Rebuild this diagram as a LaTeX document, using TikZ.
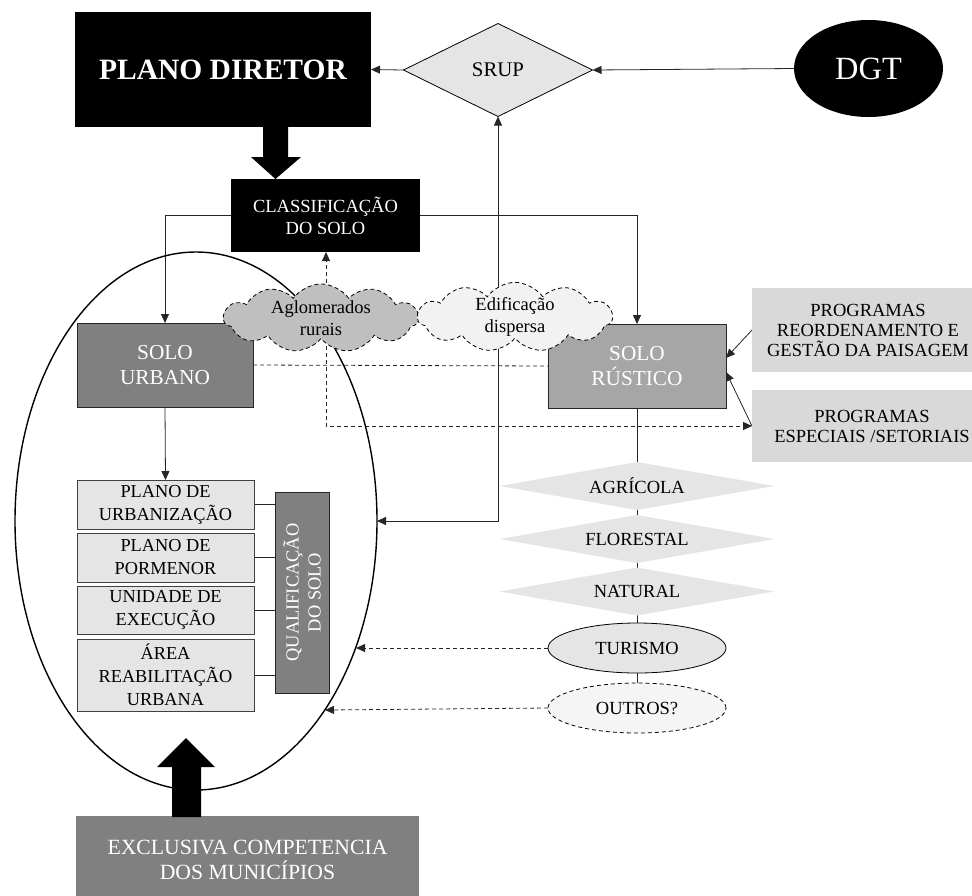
\documentclass[tikz,border=0pt]{standalone}
\usepackage{fontspec}
\setmainfont{Liberation Serif}
\usetikzlibrary{shapes.geometric,shapes.symbols,arrows.meta}
\pgfdeclarelayer{back}
\pgfsetlayers{back,main}

\begin{document}
\begin{tikzpicture}[x=1pt, y=-1pt,
		>={Triangle[length=9pt,width=8pt]},
		every node/.style={inner sep=0pt, outer sep=0pt, align=center, font=\fontsize{18.5}{22}\selectfont},
		blackbox/.style={fill=black, text=white},
		soilbox/.style={draw=black!85, line width=.8pt, text=white, font=\fontsize{21.3}{24.5}\selectfont},
		planbox/.style={draw=black!75, line width=.8pt, fill=black!10, minimum width=177, font=\fontsize{18.3}{23}\selectfont},
		progbox/.style={fill=black!15, font=\fontsize{18.5}{20}\selectfont},
		landuse/.style={diamond, shape aspect=5.7, fill=black!10, minimum width=275, minimum height=48},
		dashline/.style={dash pattern=on 4pt off 3pt},
		cloudbox/.style={cloud, cloud puffs=11, cloud puff arc=110, cloud ignores aspect, draw, line width=.8pt, dashline, minimum width=195, minimum height=67},
		link/.style={line width=.8pt, black!85}]
	\useasboundingbox (0,0) rectangle (972,895);
	\draw[line width=1.4pt] (196,521) ellipse [x radius=181, y radius=269];
	\node[blackbox, minimum width=296, minimum height=115, font=\fontsize{29.5}{34}\selectfont\bfseries] (plano) at (223,69.5) {PLANO DIRETOR};
	\node[diamond, shape aspect=2, draw, line width=.8pt, fill=black!10, minimum width=189, minimum height=93, font=\fontsize{20.8}{24}\selectfont] (srup) at (498,70) {SRUP};
	\node[ellipse, blackbox, minimum width=149, minimum height=97, font=\fontsize{32.4}{36}\selectfont] (dgt) at (868.5,68.5) {DGT};
	\node[blackbox, minimum width=189, minimum height=73] (classif) at (325.5,215.5) {CLASSIFICAÇÃO\\DO SOLO};
	\node[soilbox, fill=black!50, minimum width=176, minimum height=84] (urbano) at (165,365) {SOLO\\URBANO};
	\node[soilbox, fill=black!35, minimum width=178, minimum height=84] (rustico) at (637,366) {SOLO\\RÚSTICO};
	\node[progbox, minimum width=232, minimum height=84] (reord) at (868,330) {PROGRAMAS\\REORDENAMENTO E\\GESTÃO DA PAISAGEM};
	\node[progbox, minimum width=240, minimum height=72] (especiais) at (872,426) {PROGRAMAS\\ESPECIAIS /SETORIAIS};
	\node[planbox, minimum height=49] (purb) at (165.5,504.5) {PLANO DE\\URBANIZAÇÃO};
	\node[planbox, minimum height=49] (ppor) at (165.5,557.5) {PLANO DE\\PORMENOR};
	\node[planbox, minimum height=48] (uexe) at (165.5,610) {UNIDADE DE\\EXECUÇÃO};
	\node[planbox, minimum height=72] (area) at (165.5,675) {ÁREA\\REABILITAÇÃO\\URBANA};
	\node[soilbox, fill=black!50, rotate=90, minimum width=201, minimum height=54, font=\fontsize{18.4}{22}\selectfont] (qual) at (302,592.5) {QUALIFICAÇÃO\\DO SOLO};
	\node[landuse] (agr) at (637,486) {AGRÍCOLA};
	\node[landuse] (flor) at (637,539) {FLORESTAL};
	\node[landuse] (nat) at (637,591.5) {NATURAL};
	\node[ellipse, draw, line width=.8pt, fill=black!10, minimum width=178, minimum height=50] (tur) at (637,648) {TURISMO};
	\node[ellipse, draw, line width=.8pt, dashline, fill=black!4, minimum width=178, minimum height=50] (outros) at (637,708) {OUTROS?};
	\node[soilbox, draw=none, fill=black!50, minimum width=343, minimum height=87, font=\fontsize{21.7}{25}\selectfont] (exclusiva) at (247.5,859.5) {EXCLUSIVA COMPETENCIA\\DOS MUNICÍPIOS};
	\fill (263,127) -- (288,127) -- (288,157) -- (301,157) -- (275.5,179) -- (251,157) -- (263,157) -- cycle;
	\fill (172,817) -- (201,817) -- (201,767) -- (215,767) -- (186,738) -- (157,767) -- (172,767) -- cycle;
	\node[cloudbox, fill=black!25] (aglo) at (321,318) {Aglomerados\\rurais};
	\node[cloudbox, fill=black!5] (edif) at (515,317) {Edificação\\dispersa};
	\coordinate (agl) at (326,318);
	\coordinate (srupin) at (377,521);
	\coordinate (turin) at (356,648);
	\coordinate (outin) at (325,710);
	\begin{pgfonlayer}{back}
		\draw[link, ->] (srup.west) -- (plano.east);
		\draw[link, ->] (dgt.west) -- (srup.east);
		\draw[link, <->] (srup.south) |- (srupin);
		\draw[link, ->] (classif.west) -| (urbano.north);
		\draw[link, ->] (classif.east) -| (rustico.north);
		\draw[link, ->] (urbano.south) -- (purb.north);
		\draw[link] (rustico.south) -- (outros.north);
		\draw[link, dashline] (urbano.east) -- (rustico.west);
		\draw[link, dashline, ->] (agl) -- (agl |- classif.south);
		\draw[link, dashline, ->] (agl) |- (especiais.west);
		\draw[link, ->] (reord.west) -- ([yshift=8pt]rustico.east);
		\draw[link, ->] (especiais.west) -- ([yshift=-6pt]rustico.east);
		\draw[link, dashline, ->] (tur.west) -- (turin);
		\draw[link, dashline, ->] (outros.west) -- (outin);
		\foreach \p in {purb,ppor,uexe,area}
			\draw[link] (\p.east) -- (\p.east -| qual.north);
	\end{pgfonlayer}
\end{tikzpicture}
\end{document}
